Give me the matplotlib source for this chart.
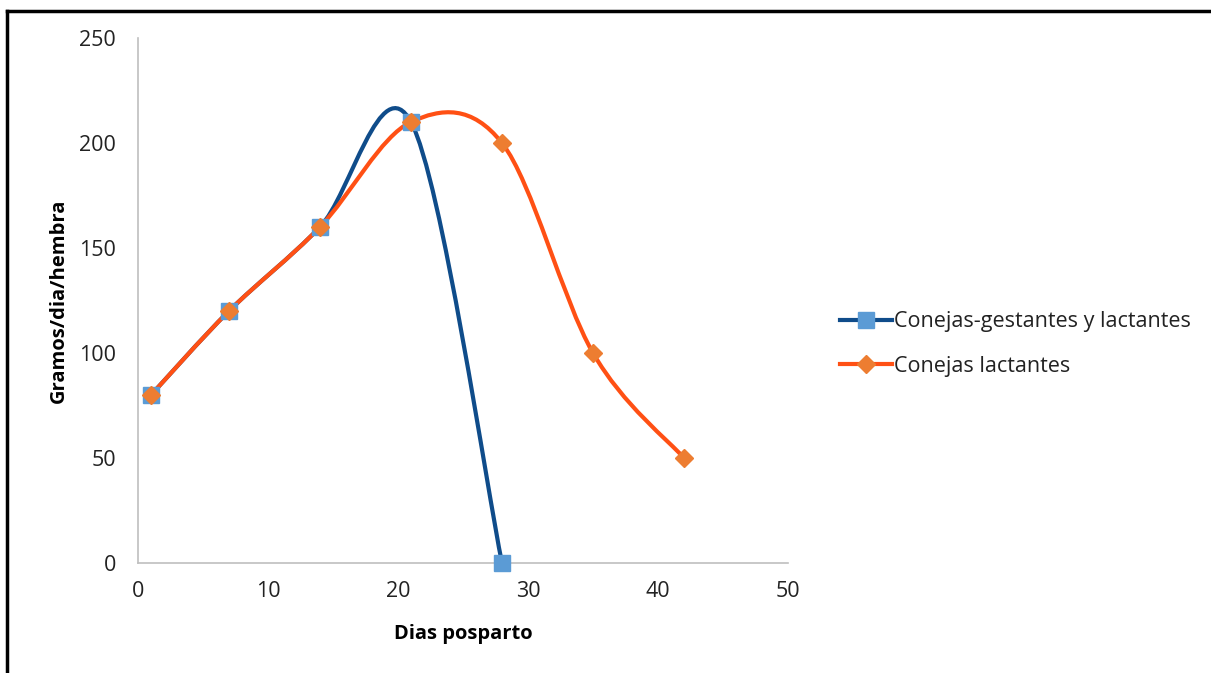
import matplotlib
matplotlib.use('Agg')
import matplotlib.pyplot as plt
from matplotlib.path import Path
from matplotlib.patches import PathPatch
from matplotlib.lines import Line2D

plt.rcParams['font.family'] = ['Open Sans', 'DejaVu Sans']

# datos
dias_gest = [1, 7, 14, 21, 28]
gramos_gest = [80, 120, 160, 210, 0]
dias_lact = [1, 7, 14, 21, 28, 35, 42]
gramos_lact = [80, 120, 160, 210, 200, 100, 50]

label_gest = 'Conejas-gestantes y lactantes'
label_lact = 'Conejas lactantes'

c_gest_line = '#0F4C8A'
c_gest_mark = '#5B9BD5'
c_lact_line = '#FF5014'
c_lact_mark = '#ED7D31'


def smooth_path(xs, ys):
    # curva suave tipo Excel (Bezier de Catmull-Rom)
    pts = list(zip(xs, ys))
    n = len(pts)
    verts = [pts[0]]
    codes = [Path.MOVETO]
    for i in range(n - 1):
        p0 = pts[i - 1] if i > 0 else pts[i]
        p1 = pts[i]
        p2 = pts[i + 1]
        p3 = pts[i + 2] if i + 2 < n else pts[i + 1]
        c1 = (p1[0] + (p2[0] - p0[0]) / 6, p1[1] + (p2[1] - p0[1]) / 6)
        c2 = (p2[0] - (p3[0] - p1[0]) / 6, p2[1] - (p3[1] - p1[1]) / 6)
        verts += [c1, c2, p2]
        codes += [Path.CURVE4] * 3
    return Path(verts, codes)


fig = plt.figure(figsize=(12.11, 6.73), dpi=100)
ax = fig.add_axes([138 / 1211, 1 - 563 / 673, 650 / 1211, 525 / 673])

ax.add_patch(PathPatch(smooth_path(dias_gest, gramos_gest), fc='none',
                       ec=c_gest_line, lw=3, zorder=2))
ax.add_patch(PathPatch(smooth_path(dias_lact, gramos_lact), fc='none',
                       ec=c_lact_line, lw=3, zorder=3))
ax.plot(dias_gest, gramos_gest, ls='none', marker='s', ms=12,
        mfc=c_gest_mark, mec=c_gest_mark, zorder=4, clip_on=False)
ax.plot(dias_lact, gramos_lact, ls='none', marker='D', ms=9,
        mfc=c_lact_mark, mec=c_lact_mark, zorder=5, clip_on=False)

ax.set_xlim(0, 50)
ax.set_ylim(0, 250)
ax.set_xticks(range(0, 51, 10))
ax.set_yticks(range(0, 251, 50))
for s in ['top', 'right']:
    ax.spines[s].set_visible(False)
for s in ['left', 'bottom']:
    ax.spines[s].set_color('#BFBFBF')
    ax.spines[s].set_linewidth(1.2)
ax.tick_params(length=0, labelsize=15.5, colors='#404040', labelcolor='#222222')
ax.tick_params(axis='x', pad=13)
ax.tick_params(axis='y', pad=16)
ax.set_xlabel('Dias posparto', fontsize=14.5, fontweight='bold', labelpad=16)
ax.set_ylabel('Gramos/dia/hembra', fontsize=14.5, fontweight='bold', labelpad=7)

handles = [
    Line2D([], [], color=c_gest_line, lw=3, marker='s', ms=12,
           mfc=c_gest_mark, mec=c_gest_mark),
    Line2D([], [], color=c_lact_line, lw=3, marker='D', ms=9,
           mfc=c_lact_mark, mec=c_lact_mark),
]
fig.legend(handles, [label_gest, label_lact], loc='center left',
           bbox_to_anchor=(821 / 1211, 1 - 344 / 673), frameon=False,
           fontsize=15.5, handlelength=2.4, handletextpad=0.1,
           labelspacing=1.1, labelcolor='#222222')

# marco negro
fig.add_artist(Line2D([7 / 1211, 7 / 1211], [0, 1 - 11 / 673],
                      transform=fig.transFigure, color='black', lw=2.5))
fig.add_artist(Line2D([7 / 1211, 1], [1 - 11 / 673, 1 - 11 / 673],
                      transform=fig.transFigure, color='black', lw=2.5))

fig.savefig('out.png', dpi=100)
